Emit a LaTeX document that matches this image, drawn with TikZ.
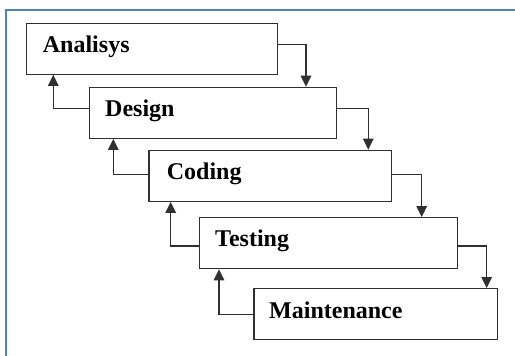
\documentclass[tikz,border=0pt]{standalone}
\usepackage{fontspec}
\setmainfont{Liberation Serif}
\usetikzlibrary{arrows.meta,calc}
\definecolor{frameblue}{HTML}{4F81BD}
\definecolor{ink}{HTML}{303030}
\tikzset{
  stagebox/.style={draw=ink, line width=1.2pt, fill=white, inner sep=0pt,
                   minimum height=51pt},
  stagename/.style={anchor=base west, inner sep=0pt, text=black,
                    font=\fontsize{24}{28}\selectfont\bfseries},
  flow/.style={draw=ink, line width=1.2pt,
               -{Triangle[length=11pt,width=10.5pt]}},
}
\begin{document}
\begin{tikzpicture}[x=1pt,y=-1pt]
  \useasboundingbox (0,0) rectangle (515,356);
  % page frame, running off the right and bottom edges
  \draw[frameblue, line width=2.2pt] (530,10) -- (6,10) -- (6,372);

  % the five phases
  \node[stagebox, minimum width=251pt]   (ana) at (152.2,48.7)  {};
  \node[stagebox, minimum width=247.4pt] (des) at (213.0,112.8) {};
  \node[stagebox, minimum width=242.7pt] (cod) at (270.3,175.8) {};
  \node[stagebox, minimum width=258.4pt] (tes) at (328.5,243.2) {};
  \node[stagebox, minimum width=243.7pt] (mai) at (375.8,314.2) {};

  \node[stagename] (tana) at (42.7,52.3)  {Analisys};
  \node[stagename] (tdes) at (105,116.7)  {Design};
  \node[stagename] (tcod) at (166.7,179.3) {Coding};
  \node[stagename] (ttes) at (215,246.7)  {Testing};
  \node[stagename] (tmai) at (269,318.3)  {Maintenance};

  % columns of the downward and upward connectors
  \coordinate (d1) at (306,0);   \coordinate (u1) at (53.3,0);
  \coordinate (d2) at (368.3,0); \coordinate (u2) at (113.3,0);
  \coordinate (d3) at (421.7,0); \coordinate (u3) at (170.7,0);
  \coordinate (d4) at (486.7,0); \coordinate (u4) at (219,0);

  % forward flow
  \draw[flow] ($(ana.east)+(0,-4.6)$) -| (des.north -| d1);
  \draw[flow] ($(des.east)+(0,-4.5)$) -| (cod.north -| d2);
  \draw[flow] ($(cod.east)+(0,-1.6)$) -| (tes.north -| d3);
  \draw[flow] ($(tes.east)+(0,2.8)$)  -| (mai.north -| d4);

  % feedback flow
  \draw[flow] ($(des.west)+(0,-4.5)$) -| (ana.south -| u1);
  \draw[flow] ($(cod.west)+(0,-1.6)$) -| (des.south -| u2);
  \draw[flow] ($(tes.west)+(0,2.8)$)  -| (cod.south -| u3);
  \draw[flow] ($(mai.west)+(0,0.1)$)  -| (tes.south -| u4);
\end{tikzpicture}
\end{document}
